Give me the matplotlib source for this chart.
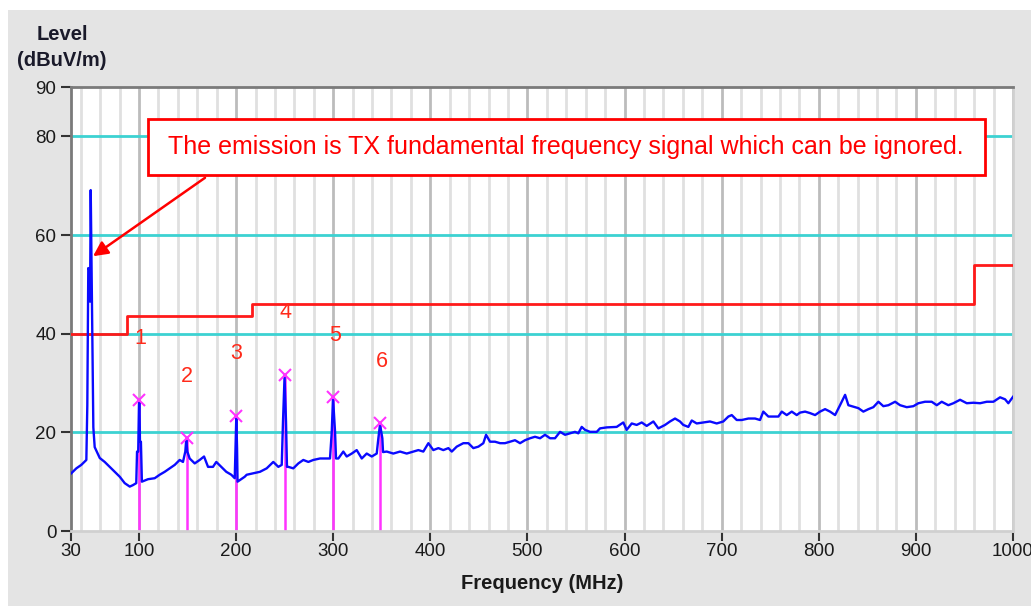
import matplotlib
matplotlib.use("Agg")
import matplotlib.pyplot as plt
from matplotlib.patches import Rectangle

plt.rcParams['font.family'] = ['Liberation Sans', 'DejaVu Sans']

# ---------------- data ----------------
freq = [30.3, 35.5, 40.6, 45.8, 46.8, 47.8, 48.8, 49.6, 50.3, 51.6, 53.0, 54.4,
        59.6, 64.7, 69.9, 75.0, 80.2, 85.3, 90.5, 93.8, 97.2,
        98.0, 99.2, 100.0, 100.5, 101.0, 102.0, 103.0,
        109.3, 116.2, 121.3, 126.5, 131.6, 136.8, 141.9, 145.3,
        147.7, 148.7, 149.8, 152.2, 157.4, 162.5, 167.0, 171.1, 176.2, 179.6,
        184.8, 189.9, 195.1, 198.6, 199.4, 200.2, 201.0, 201.5, 203.7, 208.9,
        210.9, 217.7, 224.6, 231.5, 238.3, 243.5, 247.0,
        248.3, 249.9, 251.4, 252.4, 253.8, 258.9, 264.1, 269.2, 274.4, 279.5,
        286.4, 293.3, 296.7, 298.5, 299.8, 301.9, 302.9, 305.3, 310.4, 313.9,
        319.1, 324.2, 329.4, 334.5, 339.7, 344.8, 346.5, 348.2, 350.6, 351.3,
        355.1, 361.9, 368.8, 375.7, 382.5, 387.7, 392.8, 398.0, 403.1, 408.3,
        413.4, 418.6, 422.1, 427.2, 434.0, 439.2, 444.3, 449.5, 454.6, 457.4,
        461.5, 466.6, 471.8, 476.9, 482.1, 487.2, 492.4, 497.5, 502.7, 507.8,
        513.0, 518.1, 523.3, 528.4, 533.6, 538.7, 543.9, 549.0, 552.4, 555.9,
        559.3, 564.5, 571.4, 574.7, 581.6, 591.9, 598.7, 602.2, 607.4, 612.5,
        617.7, 622.8, 629.7, 634.8, 641.7, 646.8, 652.0, 657.1, 660.5, 665.7,
        669.2, 674.3, 681.1, 688.0, 694.9, 701.7, 706.9, 710.4, 715.5, 720.7,
        727.5, 734.4, 739.5, 742.9, 748.1, 753.2, 758.4, 761.9, 767.0, 772.2,
        777.3, 780.7, 785.9, 791.0, 796.2, 801.3, 806.5, 811.6, 816.8, 821.9,
        827.1, 830.5, 835.6, 840.8, 845.9, 851.1, 856.2, 861.4, 866.5, 871.7,
        878.6, 883.7, 890.6, 897.4, 902.6, 909.4, 916.3, 921.5, 926.6, 933.4,
        938.6, 945.5, 952.4, 959.2, 966.1, 973.0, 979.8, 986.7, 991.8, 995.2,
        1000.0]
level = [11.7, 12.7, 13.4, 14.4, 25.5, 53.3, 53.0, 46.5, 69.1, 46.2, 21.0, 17.0,
         14.8, 14.0, 13.0, 12.0, 11.0, 9.7, 9.0, 9.3, 9.7,
         16.1, 16.1, 25.8, 26.2, 18.1, 18.1, 10.0,
         10.5, 10.7, 11.4, 12.0, 12.7, 13.4, 14.4, 14.0,
         16.1, 18.6, 16.1, 14.7, 13.7, 14.4, 15.1, 13.0, 13.0, 14.0,
         13.0, 12.0, 11.4, 10.7, 16.8, 23.0, 16.8, 10.0, 10.3, 11.0,
         11.4, 11.7, 12.0, 12.7, 14.0, 13.0, 13.4,
         22.2, 31.3, 22.2, 13.0, 13.0, 12.7, 13.7, 14.4, 14.0, 14.4,
         14.7, 14.7, 14.7, 20.1, 27.0, 20.1, 14.7, 14.7, 16.1, 15.1,
         15.7, 16.4, 14.7, 15.7, 15.1, 15.7, 18.8, 21.6, 18.8, 16.0,
         16.1, 15.7, 16.1, 15.7, 16.1, 16.4, 16.1, 17.8, 16.4, 16.8,
         16.4, 16.8, 16.1, 17.1, 17.8, 17.8, 16.8, 17.1, 17.8, 19.5,
         18.1, 18.1, 17.8, 17.8, 18.1, 18.4, 17.8, 18.4, 18.8, 19.1,
         18.8, 19.5, 18.8, 18.8, 20.1, 19.5, 19.8, 20.1, 19.8, 21.1,
         20.5, 20.1, 20.1, 20.8, 21.0, 21.1, 22.0, 20.5, 21.8, 21.5,
         22.0, 21.3, 22.2, 20.8, 21.5, 22.2, 22.8, 22.2, 21.5, 21.1,
         22.4, 21.8, 22.0, 22.2, 21.8, 22.2, 23.2, 23.5, 22.5, 22.5,
         22.8, 22.8, 22.5, 24.2, 23.2, 23.2, 23.2, 24.2, 23.5, 24.2,
         23.5, 24.0, 24.2, 23.9, 23.5, 24.2, 24.7, 24.2, 23.5, 25.5,
         27.6, 25.5, 25.2, 24.9, 24.2, 24.7, 25.1, 26.2, 25.3, 25.5,
         26.2, 25.5, 25.1, 25.3, 25.9, 26.2, 26.2, 25.5, 26.2, 25.5,
         25.9, 26.6, 25.9, 26.0, 25.9, 26.2, 26.2, 27.1, 26.7, 25.9,
         27.2]

limit_freq = [30, 88, 88, 216, 216, 960, 960, 1000]
limit_level = [40, 40, 43.5, 43.5, 46, 46, 54, 54]

marker_freq = [100.5, 149.0, 200.2, 250.0, 300.0, 348.5]
marker_level = [26.6, 18.9, 23.3, 31.6, 27.2, 21.9]
marker_names = ["1", "2", "3", "4", "5", "6"]
label_freq = [101, 149.5, 200.5, 251, 302, 350]
label_level = [39.1, 31.4, 35.9, 44.2, 39.6, 34.3]

xticks = [30, 100, 200, 300, 400, 500, 600, 700, 800, 900, 1000]
yticks = [0, 20, 40, 60, 80, 90]
note = "The emission is TX fundamental frequency signal which can be ignored."

# ---------------- figure ----------------
W, H = 1031, 606
fig = plt.figure(figsize=(W / 100, H / 100), dpi=100, facecolor='white')
fig.patches.append(Rectangle((8 / W, 0), 1 - 8 / W, 1 - 10 / H, transform=fig.transFigure,
                             facecolor='#e4e4e4', edgecolor='none', zorder=-10))
ax = fig.add_axes([71 / W, 1 - 531 / H, (1013 - 71) / W, (531 - 87) / H])
ax.set_facecolor('white')
ax.set_xlim(30, 1000)
ax.set_ylim(0, 90)

# grid
for g in range(40, 1001, 20):
    col = '#bcbcbc' if g % 100 == 0 else '#e0e0e0'
    ax.axvline(g, color=col, lw=2, zorder=0)
for g in [20, 40, 60, 80]:
    ax.axhline(g, color='#3cd2d2', lw=2, zorder=1)

# limit line
ax.plot(limit_freq, limit_level, color='#ff1a1a', lw=2, zorder=3)

# marker drop lines
ax.vlines(marker_freq, 0, marker_level, colors='#ff33ff', lw=1.8, zorder=2)

# trace
ax.plot(freq, level, color='#0a0aff', lw=1.7, zorder=4)

# markers
ax.plot(marker_freq, marker_level, linestyle='none', marker='x', color='#ff33ff',
        markersize=8, mew=1.5, zorder=5)
for f, lv, nm in zip(label_freq, label_level, marker_names):
    ax.text(f, lv, nm, color='#ff2a1a', fontsize=15.5, ha='center', va='center', zorder=6)

# annotation box + arrow
ax.add_patch(Rectangle((109.3, 72.2), 971.2 - 109.3, 83.5 - 72.2, facecolor='white',
                       edgecolor='#ff0000', lw=2, zorder=7))
ax.text(540, 77.85, note, color='#ff0000', fontsize=18, ha='center', va='center', zorder=8)
ax.annotate('', xy=(52.7, 55.7), xytext=(168, 71.6),
            arrowprops=dict(arrowstyle='-|>', color='#ff0000', lw=1.8,
                            mutation_scale=22, shrinkA=0, shrinkB=0), zorder=7)

# axes styling
ax.set_xticks(xticks)
ax.set_yticks(yticks)
ax.tick_params(axis='both', direction='out', length=7, width=1.5, color='#333333',
               labelsize=13.5, labelcolor='#1a1a1a')
ax.tick_params(axis='x', pad=2)
for s in ['left', 'top']:
    ax.spines[s].set_color('#7a7a7a')
    ax.spines[s].set_linewidth(2)
for s in ['right', 'bottom']:
    ax.spines[s].set_color('#d0d0d0')
    ax.spines[s].set_linewidth(2)

ax.set_xlabel('Frequency (MHz)', fontsize=14.5, fontweight='bold', color='#1a1a1a', labelpad=10)
fig.text(62 / W, 1 - 34 / H, 'Level', fontsize=14.5, fontweight='bold', color='#1a1a2a',
         ha='center', va='center')
fig.text(62 / W, 1 - 60 / H, '(dBuV/m)', fontsize=14.5, fontweight='bold', color='#1a1a2a',
         ha='center', va='center')

fig.savefig('out.png', dpi=100, facecolor=fig.get_facecolor())
